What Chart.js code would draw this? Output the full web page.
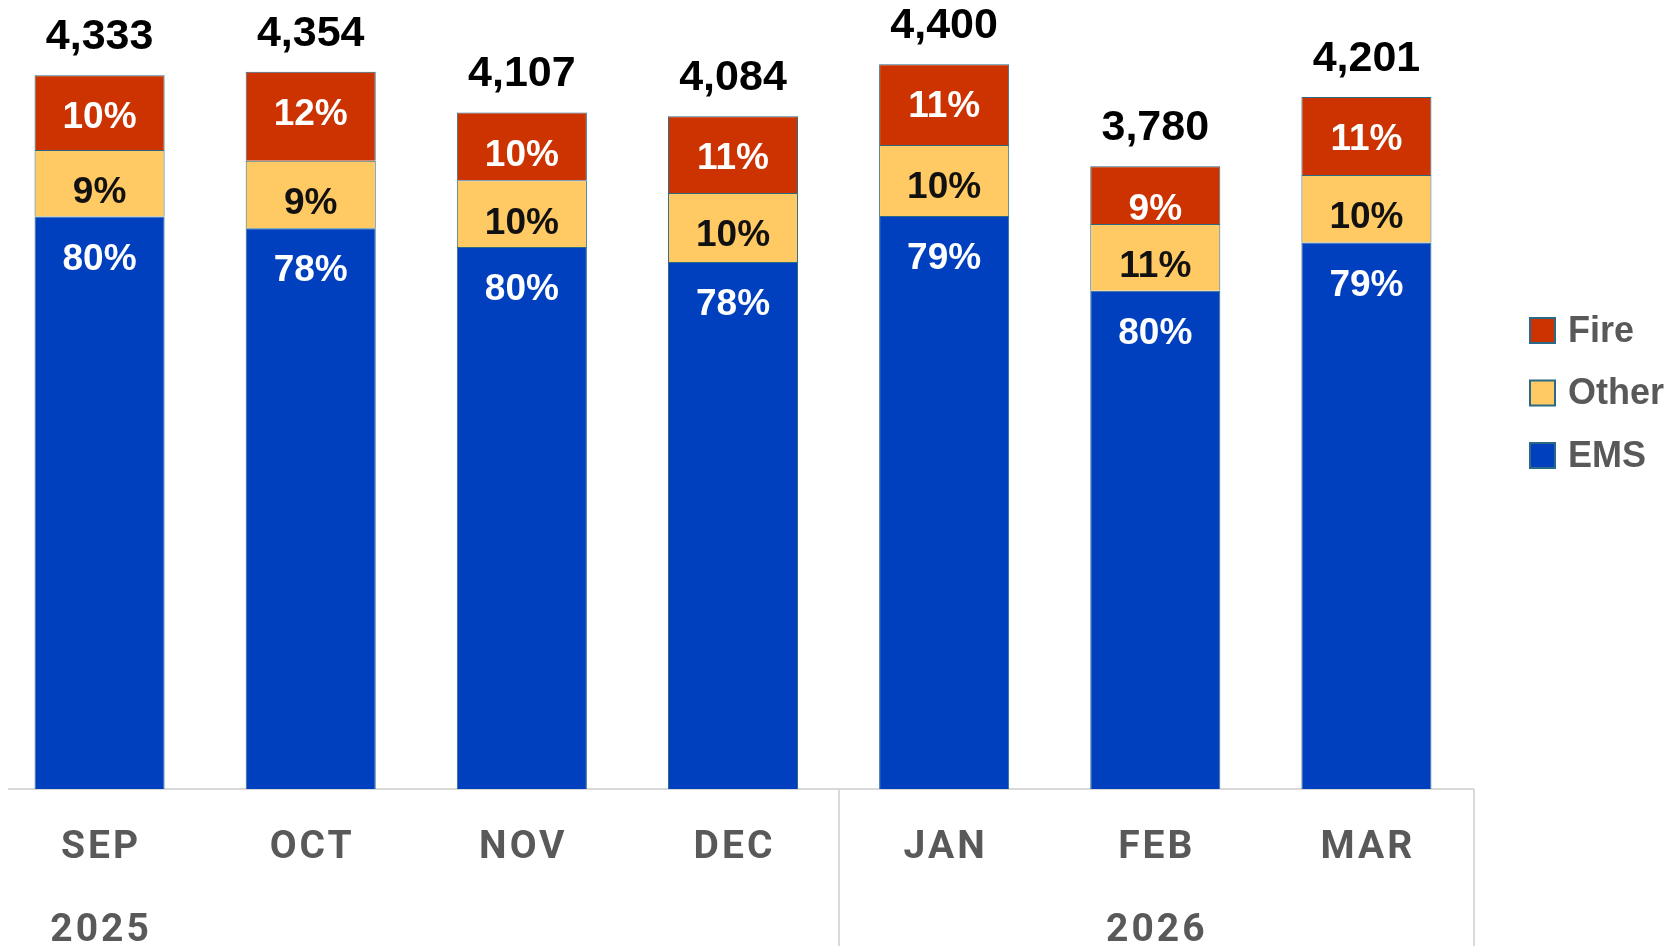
<!DOCTYPE html>
<html>
<head>
<meta charset="utf-8">
<script src="https://cdn.jsdelivr.net/npm/chart.js@4"></script>
<style>
    html, body { margin: 0; padding: 0; background: #ffffff; }
    .wrap { position: relative; width: 1678px; height: 946px; overflow: hidden; }
    #callsChart { position: absolute; left: -6px; top: 0; }
</style>
</head>
<body>
<div class="wrap">
    <canvas id="callsChart" width="1684" height="946"></canvas>
</div>
<script>
// Chart data
const months = ['SEP', 'OCT', 'NOV', 'DEC', 'JAN', 'FEB', 'MAR'];
const yearLabels = ['2025', '', '', '', '', '2026', ''];
const yearGroupStarts = [0, 4];

const emsCalls = [3475, 3405, 3290, 3200, 3478, 3025, 3318];
const otherCalls = [405, 409, 405, 418, 432, 405, 410];
const fireCalls = [453, 540, 412, 466, 490, 350, 473];

const totalLabels = ['4,333', '4,354', '4,107', '4,084', '4,400', '3,780', '4,201'];
const emsPct = ['80%', '78%', '80%', '78%', '79%', '80%', '79%'];
const otherPct = ['9%', '9%', '10%', '10%', '10%', '11%', '10%'];
const firePct = ['10%', '12%', '10%', '11%', '11%', '9%', '11%'];

// Colors
const COLORS = {
    ems: '#0040BF',
    other: '#FFC964',
    fire: '#CC3300',
    outline: '#2B6A86',
    axis: '#D9D9D9',
    text: '#595959'
};

// Labels drawn inside each segment, total above the stack, axis + legend
const labelPlugin = {
    id: 'labelPlugin',
    beforeDatasetsDraw(chart) {
        const ctx = chart.ctx;
        const area = chart.chartArea;
        const x = chart.scales.x;
        ctx.save();
        ctx.strokeStyle = COLORS.axis;
        ctx.lineWidth = 2;
        // baseline
        ctx.beginPath();
        ctx.moveTo(area.left + 14, area.bottom);
        ctx.lineTo(area.right + 2, area.bottom);
        ctx.stroke();
        // group separators
        const half = (x.getPixelForValue(1) - x.getPixelForValue(0)) / 2;
        yearGroupStarts.slice(1).forEach(start => {
            const sx = Math.round(x.getPixelForValue(start) - half);
            ctx.beginPath();
            ctx.moveTo(sx, area.bottom);
            ctx.lineTo(sx, chart.height);
            ctx.stroke();
        });
        ctx.beginPath();
        ctx.moveTo(area.right + 2, area.bottom);
        ctx.lineTo(area.right + 2, chart.height);
        ctx.stroke();
        ctx.restore();
    },
    afterDatasetsDraw(chart) {
        const ctx = chart.ctx;
        const x = chart.scales.x;
        ctx.save();
        ctx.textAlign = 'center';
        ctx.textBaseline = 'middle';

        // percent labels, set just under each segment's top
        const pctSets = [emsPct, otherPct, firePct];
        const pctColors = ['#FFFFFF', '#111111', '#FFFFFF'];
        ctx.font = 'bold 37px "Liberation Sans", Arial, sans-serif';
        pctSets.forEach((labels, d) => {
            const meta = chart.getDatasetMeta(d);
            ctx.fillStyle = pctColors[d];
            meta.data.forEach((bar, i) => {
                ctx.fillText(labels[i], bar.x, bar.y + 43);
            });
        });

        // totals above the stack
        const top = chart.getDatasetMeta(2);
        ctx.fillStyle = '#000000';
        ctx.font = 'bold 43px "Liberation Sans", Arial, sans-serif';
        top.data.forEach((bar, i) => {
            ctx.fillText(totalLabels[i], bar.x, bar.y - 38);
        });

        // month and year labels
        ctx.fillStyle = COLORS.text;
        ctx.font = 'bold 39px Roboto, sans-serif';
        ctx.letterSpacing = '3px';
        months.forEach((m, i) => {
            ctx.fillText(m, x.getPixelForValue(i) + 1.5, 848);
        });
        yearLabels.forEach((y, i) => {
            if (y) ctx.fillText(y, x.getPixelForValue(i) + 1.5, 931);
        });
        ctx.letterSpacing = '0px';

        // legend (top to bottom: Fire, Other, EMS)
        const legendX = 1536;
        const rows = [2, 1, 0];
        ctx.textAlign = 'left';
        ctx.font = 'bold 36px "Liberation Sans", Arial, sans-serif';
        rows.forEach((d, r) => {
            const ds = chart.data.datasets[d];
            const cy = 330 + r * 62.5;
            ctx.fillStyle = ds.backgroundColor;
            ctx.fillRect(legendX, cy - 12, 25, 25);
            ctx.strokeStyle = COLORS.outline;
            ctx.lineWidth = 2;
            ctx.strokeRect(legendX, cy - 12, 25, 25);
            ctx.fillStyle = COLORS.text;
            ctx.fillText(ds.label, legendX + 38, cy + 2);
        });
        ctx.restore();
    }
};

let callsChart;
function initCallsChart() {
    const ctx = document.getElementById('callsChart').getContext('2d');
    const common = {
        borderColor: COLORS.outline,
        borderWidth: 1,
        categoryPercentage: 1,
        barPercentage: 0.616
    };
    callsChart = new Chart(ctx, {
        type: 'bar',
        data: {
            labels: months,
            datasets: [
                { label: 'EMS', data: emsCalls, backgroundColor: COLORS.ems, ...common },
                { label: 'Other', data: otherCalls, backgroundColor: COLORS.other, ...common },
                { label: 'Fire', data: fireCalls, backgroundColor: COLORS.fire, ...common }
            ]
        },
        options: {
            responsive: false,
            animation: false,
            devicePixelRatio: 1,
            layout: {
                padding: { left: 0, top: 0, right: 206, bottom: 157 }
            },
            plugins: {
                legend: { display: false },
                tooltip: { enabled: false }
            },
            scales: {
                x: { stacked: true, display: false },
                y: { stacked: true, display: false, min: 0, max: 4790 }
            }
        },
        plugins: [labelPlugin]
    });
}

document.addEventListener('DOMContentLoaded', function() {
    initCallsChart();
});
</script>
</body>
</html>
